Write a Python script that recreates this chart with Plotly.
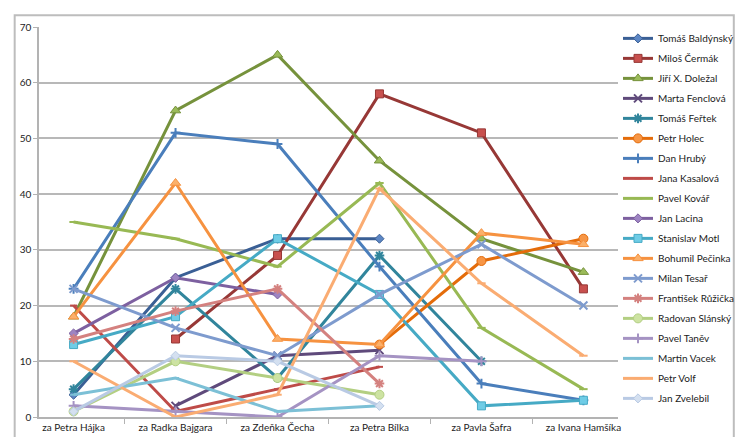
import plotly.graph_objects as go

categories = ["za Petra Hájka", "za Radka Bajgara", "za Zdeňka Čecha",
              "za Petra Bílka", "za Pavla Šafra", "za Ivana Hamšíka"]

names = ["Tomáš Baldýnský", "Miloš Čermák", "Jiří X. Doležal", "Marta Fenclová",
         "Tomáš Feřtek", "Petr Holec", "Dan Hrubý", "Jana Kasalová", "Pavel Kovář",
         "Jan Lacina", "Stanislav Motl", "Bohumil Pečinka", "Milan Tesař",
         "František Růžička", "Radovan Slánský", "Pavel Taněv", "Martin Vacek",
         "Petr Volf", "Jan Zvelebil"]

baldynsky = [4, 25, 32, 32, None, None]
cermak = [None, 14, 29, 58, 51, 23]
dolezal = [18, 55, 65, 46, 32, 26]
fenclova = [None, 2, 11, 12, None, None]
frtek = [5, 23, 7, 29, 10, None]
holec = [None, None, None, 13, 28, 32]
hruby = [23, 51, 49, 27, 6, 3]
kasalova = [20, 1, 5, 9, None, None]
kovar = [35, 32, 27, 42, 16, 5]
lacina = [15, 25, 22, None, None, None]
motl = [13, 18, 32, 22, 2, 3]
pecinka = [18, 42, 14, 13, 33, 31]
tesar = [23, 16, 11, 22, 31, 20]
ruzicka = [14, 19, 23, 6, None, None]
slansky = [1, 10, 7, 4, None, None]
tanev = [2, 1, 0, 11, 10, None]
vacek = [4, 7, 1, 2, None, None]
volf = [10, 0, 4, 41, 24, 11]
zvelebil = [1, 11, 10, 2, None, None]

series = [baldynsky, cermak, dolezal, fenclova, frtek, holec, hruby, kasalova,
          kovar, lacina, motl, pecinka, tesar, ruzicka, slansky, tanev, vacek,
          volf, zvelebil]

line_colors = ["#3A5F95", "#973836", "#76923C", "#5F4A7B", "#31859C", "#E46C0A",
               "#4A7EBB", "#BE4B48", "#98B954", "#7D60A0", "#46AAC5", "#F69240",
               "#7E9BCE", "#D4817F", "#B3CF82", "#A593C3", "#7CC0D6", "#FAAC72",
               "#B9CAE4"]
fill_colors = ["#5C86C4", "#C8504E", "#9BBB59", "#8064A2", "#4BACC6", "#F79646",
               "#6E9BD6", "#D86A66", "#B3D07A", "#9D84C2", "#6FCCE6", "#FBB06A",
               "#A6BCE2", "#E8A3A1", "#CDE3A2", "#C1B3DA", "#A3D8E8", "#FCC89E",
               "#D4E0F0"]
symbols = ["diamond", "square", "triangle-up", "x-thin", "asterisk", "circle",
           "cross-thin", "line-ew", "line-ew"]
sizes = [7, 8, 9, 8, 8, 9, 7, 5, 6]

fig = go.Figure()
for i, (name, vals) in enumerate(zip(names, series)):
    k = i % 9
    sym = symbols[k]
    thin = sym in ("x-thin", "asterisk", "cross-thin", "line-ew")
    fig.add_trace(go.Scatter(
        x=categories, y=vals, name=name, mode="lines+markers",
        legendgroup=name,
        line=dict(color=line_colors[i], width=3),
        marker=dict(symbol=sym, size=sizes[k],
                    color=fill_colors[i],
                    line=dict(color=line_colors[i], width=2 if thin else 1)),
    ))

fig.update_layout(
    width=744, height=437,
    margin=dict(l=27, r=124, t=14, b=26),
    paper_bgcolor="white", plot_bgcolor="white",
    font=dict(family="Lato, Open Sans, sans-serif", size=10, color="#222222"),
    showlegend=True,
    legend=dict(x=1.0, xanchor="left", y=1.008, yanchor="top",
                font=dict(size=10), tracegroupgap=1, itemwidth=30,
                maxheight=430, bgcolor="rgba(0,0,0,0)"),
)
fig.update_xaxes(type="category", showgrid=False, showline=True,
                 linecolor="#B3B3B3", linewidth=1.5, ticks="outside",
                 tickson="boundaries", ticklen=5, tickcolor="#B3B3B3",
                 tickfont=dict(size=10))
fig.update_yaxes(range=[0, 70], dtick=10, showgrid=True, gridcolor="#B8B8B8",
                 gridwidth=1.5, showline=True, linecolor="#B3B3B3", linewidth=1.5,
                 ticks="outside", ticklen=4, tickcolor="#B3B3B3", zeroline=False,
                 tickfont=dict(size=10))

fig.add_shape(type="rect", xref="paper", yref="paper",
              x0=-0.042, x1=1.2, y0=-0.055, y1=1.03,
              line=dict(color="#BDBDBD", width=2))

fig.write_html("out.html")
